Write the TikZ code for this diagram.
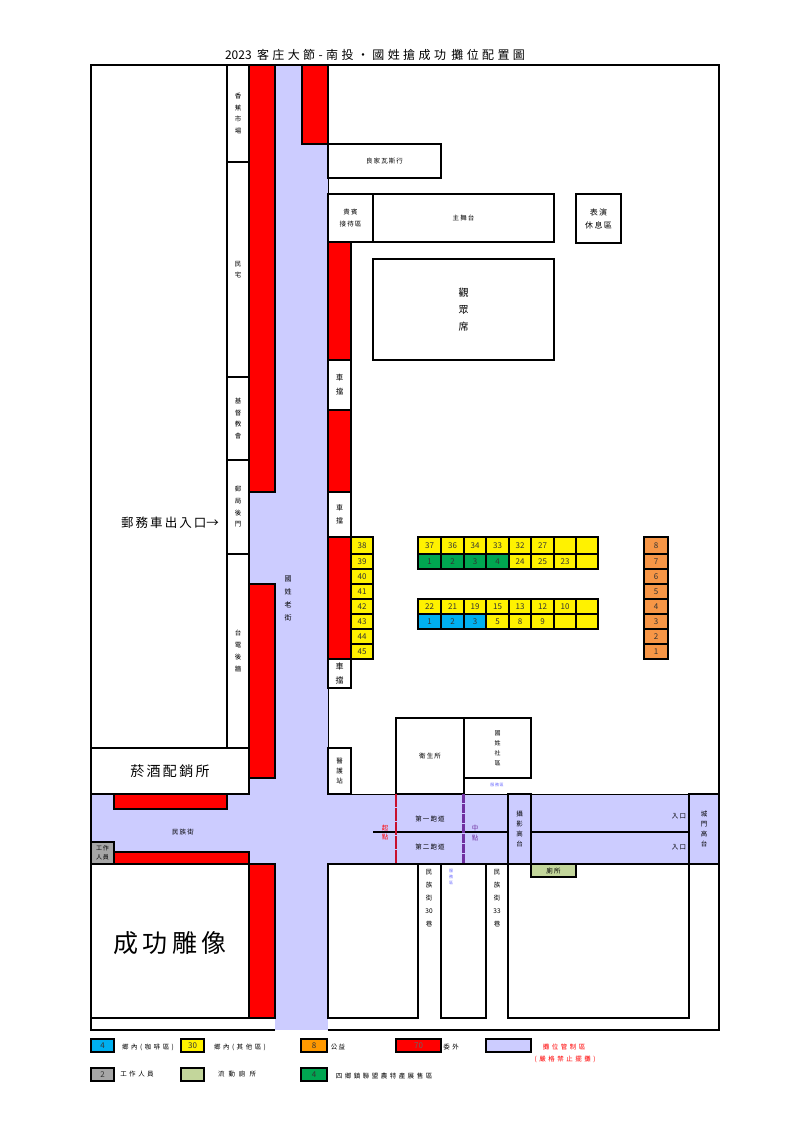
\documentclass[tikz,border=0pt]{standalone}
\usepackage{fontspec}
\newfontfamily\cjk{Noto Sans CJK TC}
\newcommand{\sz}[2]{\fontsize{#1}{#2}\selectfont}
\newcommand{\tg}{\hspace{3.4pt}}
\newcommand{\lgap}{\hspace{2.5pt}}
\definecolor{roadc}{HTML}{CCCCFF}
\definecolor{stallb}{HTML}{00B0F0}
\definecolor{stallo}{HTML}{F79646}
\definecolor{legendo}{HTML}{FF9900}
\definecolor{stallg}{HTML}{00A651}
\definecolor{toiletc}{HTML}{C3D69B}
\definecolor{staffc}{HTML}{A6A6A6}
\definecolor{startc}{HTML}{C8102E}
\definecolor{midc}{HTML}{7030A0}
\tikzset{
  wall/.style={draw=black,line width=2pt},
  redbox/.style={wall,fill=red},
  stallbox/.style={wall,fill=yellow},
  lab/.style={font=\cjk\sz{6.5}{11.7},align=center,inner sep=0pt},
  biglab/.style={font=\cjk\sz{8}{13},align=center,inner sep=0pt},
  num/.style={font=\cjk\sz{8}{10},inner sep=0pt,text=black!80}
}
\begin{document}
\begin{tikzpicture}[x=1pt,y=-1pt]
\useasboundingbox (0,0) rectangle (794,1123);
\fill[white] (0,0) rectangle (794,1123);
\node[font=\cjk\sz{12}{14},inner sep=0pt] (title) at (375,55) {2023 \ 客\tg 庄\tg 大\tg 節\tg -\tg 南\tg 投\tg ・\tg 國\tg 姓\tg 搶\tg 成\tg 功 \ 攤\tg 位\tg 配\tg 置\tg 圖};

% roads
\fill[roadc] (249,65) rectangle (328,794);
\fill[roadc] (275,794) rectangle (328,1030);
\fill[roadc] (91,794) rectangle (719,864);
\draw[line width=1pt] (328,144) -- (328,794) -- (719,794);
\draw[line width=1.4pt] (328,864) -- (719,864);

% left side
\draw[wall] (227,65) rectangle (249,162) node[midway,lab] {香\\蕉\\市\\場};
\draw[wall] (227,162) rectangle (249,377) node[midway,lab] {民\\宅};
\draw[wall] (227,377) rectangle (249,460) node[midway,lab] {基\\督\\教\\會};
\draw[wall] (227,460) rectangle (249,554) node[midway,lab] {郵\\局\\後\\門};
\draw[wall] (227,554) rectangle (249,748) node[midway,lab] {台\\電\\後\\牆};
\node[font=\cjk\sz{12.5}{14},inner sep=0pt] (postgate) at (170,523) {郵\,務\,車\,出\,入\,口→};
\draw[wall,fill=white] (91,748) rectangle (249,794) node[midway,font=\cjk\sz{14}{16}] {菸\,酒\,配\,銷\,所};
\draw[wall,fill=white] (91,864) rectangle (249,1018);
\node[font=\cjk\sz{25}{28},inner sep=0pt] (statue) at (170,943) {成\,功\,雕\,像};
\node[lab] (minzu) at (183,832) {民\,族\,街};
\draw[wall,fill=staffc] (91,842) rectangle (114,864) node[midway,lab,font=\cjk\sz{6}{9}] {工\,作\\人\,員};

% red stalls along the old street
\draw[redbox] (249,65) rectangle (275,492);
\draw[redbox] (249,584) rectangle (275,778);
\draw[redbox] (249,864) rectangle (275,1018);
\draw[redbox] (302,65) rectangle (328,144);
\draw[redbox] (114,794) rectangle (227,809);
\draw[redbox] (114,852) rectangle (249,864);
\draw[redbox] (328,242) rectangle (351,360);
\draw[redbox] (328,410) rectangle (351,492);
\draw[redbox] (328,537) rectangle (351,659);
\node[lab,font=\cjk\sz{7}{13}] (oldst) at (288,598) {國\\姓\\老\\街};

% stage area
\draw[wall] (328,144) rectangle (441,178) node[midway,lab] {良\,家\,瓦\,斯\,行};
\draw[wall] (328,194) rectangle (373,242) node[midway,lab] {貴\,賓\\接\,待\,區};
\draw[wall] (373,194) rectangle (554,242) node[midway,lab] {主\,舞\,台};
\draw[wall] (576,194) rectangle (621,243) node[midway,biglab] {表\,演\\休\,息\,區};
\draw[wall] (373,259) rectangle (554,360) node[midway,font=\cjk\sz{10}{17},align=center] {觀\\眾\\席};
\draw[wall] (328,360) rectangle (351,410) node[midway,biglab,font=\cjk\sz{7.5}{14}] {車\\擋};
\draw[wall] (328,492) rectangle (351,537) node[midway,lab,font=\cjk\sz{7}{13}] {車\\擋};
\draw[wall] (328,659) rectangle (351,688) node[midway,lab,font=\cjk\sz{8}{14}] {車\\擋};

% yellow column and orange column
\foreach \ya/\yb/\txt/\ob in {537/554/38/8,554/569/39/7,569/584/40/6,584/599/41/5,599/614/42/4,614/629/43/3,629/644/44/2,644/659/45/1}{
  \draw[stallbox] (351,\ya) rectangle (373,\yb) node[midway,num] {\txt};
  \draw[wall,fill=stallo] (644,\ya) rectangle (668,\yb) node[midway,num] {\ob};
}

% stall rows
\foreach \xa/\xb/\txt in {418/441/37,441/464/36,464/486/34,486/509/33,509/531/32,531/554/27,554/576/,576/598/}
  \draw[stallbox] (\xa,537) rectangle (\xb,554) node[midway,num] {\txt};
\foreach \xa/\xb/\txt in {418/441/1,441/464/2,464/486/3,486/509/4}
  \draw[wall,fill=stallg] (\xa,554) rectangle (\xb,569) node[midway,num] {\txt};
\foreach \xa/\xb/\txt in {509/531/24,531/554/25,554/576/23,576/598/}
  \draw[stallbox] (\xa,554) rectangle (\xb,569) node[midway,num] {\txt};
\foreach \xa/\xb/\txt in {418/441/22,441/464/21,464/486/19,486/509/15,509/531/13,531/554/12,554/576/10,576/598/}
  \draw[stallbox] (\xa,599) rectangle (\xb,614) node[midway,num] {\txt};
\foreach \xa/\xb/\txt in {418/441/1,441/464/2,464/486/3}
  \draw[wall,fill=stallb] (\xa,614) rectangle (\xb,629) node[midway,num] {\txt};
\foreach \xa/\xb/\txt in {486/509/5,509/531/8,531/554/9,554/576/,576/598/}
  \draw[stallbox] (\xa,614) rectangle (\xb,629) node[midway,num] {\txt};

% south of the stalls
\draw[wall,line width=1.4pt] (328,748) rectangle (351,794) node[midway,lab,font=\cjk\sz{6.5}{10}] {醫\\護\\站};
\draw[wall] (396,718) rectangle (464,794) node[midway,lab] {衛\,生\,所};
\draw[wall] (464,718) rectangle (531,778) node[midway,lab,font=\cjk\sz{6}{10}] {國\\姓\\社\\區};
\node[lab,font=\cjk\sz{4}{5},text=blue!60] (svc) at (497,785) {服\,務\,區};

% track
\draw[line width=2.8pt] (373,832) -- (508,832);
\draw[line width=2.8pt] (531,832) -- (689,832);
\draw[startc,line width=2pt,dash pattern=on 13pt off 1pt] (396,794) -- (396,864);
\draw[midc,line width=2.6pt,dash pattern=on 9pt off 1pt] (463.5,794) -- (463.5,864);
\node[lab,text=red,font=\cjk\sz{6.5}{9}] (start) at (385,833) {起\\點};
\node[lab,text=midc,font=\cjk\sz{6.5}{10}] (mid) at (475,833) {中\\點};
\node[lab] (trackone) at (430,819) {第\,一\,跑\,道};
\node[lab] (tracktwo) at (430,847) {第\,二\,跑\,道};
\draw[line width=1.4pt] (508,794) rectangle (531,864) node[midway,lab,font=\cjk\sz{6.5}{10}] {攝\\影\\高\\台};
\draw[line width=1.4pt] (689,794) rectangle (719,864) node[midway,lab,font=\cjk\sz{6.5}{10}] {城\\門\\高\\台};
\node[lab] (ina) at (679,816) {入\,口};
\node[lab] (inb) at (679,847) {入\,口};
\draw[wall,fill=toiletc] (531,864) rectangle (576,877) node[midway,lab] {廁\,所};

% lanes and blocks below
\draw[wall] (328,864) rectangle (418,1018);
\draw[wall] (441,864) rectangle (486,1018);
\draw[wall] (508,864) rectangle (689,1018);
\node[lab,font=\cjk\sz{6.5}{13}] (lanea) at (429,898) {民\\族\\街\\30\\巷};
\node[lab,font=\cjk\sz{6.5}{13}] (laneb) at (497,898) {民\\族\\街\\33\\巷};
\node[lab,font=\cjk\sz{4}{6},text=blue!60] (svcb) at (451,877) {服\\務\\區};

% frame
\draw[line width=2.4pt] (275,1030) -- (91,1030) -- (91,65) -- (719,65) -- (719,1030) -- (328,1030);

% legend
\draw[wall,fill=stallb] (91,1039) rectangle (114,1052) node[midway,num] {4};
\node[lab] (legbl) at (148,1047) {鄉\lgap 內\lgap (\lgap 咖\lgap 啡\lgap 區\lgap )};
\draw[wall,fill=yellow] (181,1039) rectangle (204,1052) node[midway,num] {30};
\node[lab] (legye) at (240,1047) {鄉\lgap 內\lgap (\lgap 其\lgap 他\lgap 區\lgap )};
\draw[wall,fill=legendo] (301,1039) rectangle (327,1052) node[midway,num] {8};
\node[lab] (legor) at (338,1047) {公\,益};
\draw[redbox] (396,1039) rectangle (441,1052) node[midway,num,text=black!60] {70};
\node[lab] (legre) at (451,1047) {委\lgap 外};
\draw[wall,fill=roadc] (486,1039) rectangle (531,1052);
\node[lab,text=red] (legctl) at (564,1047) {攤\lgap 位\lgap 管\lgap 制\lgap 區};
\node[lab,text=red] (legban) at (565,1059) {(\lgap 嚴\lgap 格\lgap 禁\lgap 止\lgap 擺\lgap 攤\lgap )};
\draw[wall,fill=staffc] (91,1068) rectangle (114,1081) node[midway,num] {2};
\node[lab] (legst) at (137,1074) {工\lgap 作\lgap 人\lgap 員};
\draw[wall,fill=toiletc] (181,1068) rectangle (204,1081);
\node[lab] (legto) at (237,1074) {流\hspace{4pt}動\hspace{4pt}廁\hspace{4pt}所};
\draw[wall,fill=stallg] (301,1068) rectangle (327,1081) node[midway,num] {4};
\node[lab] (leggr) at (384,1076) {四\lgap 鄉\lgap 鎮\lgap 聯\lgap 盟\lgap 農\lgap 特\lgap 產\lgap 展\lgap 售\lgap 區};
\end{tikzpicture}
\end{document}
